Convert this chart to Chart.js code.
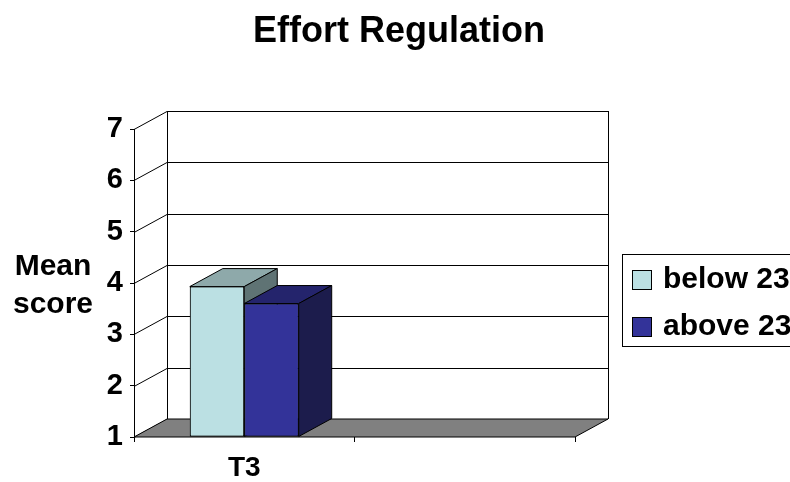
<!DOCTYPE html>
<html>
<head>
<meta charset="utf-8">
<title>Effort Regulation</title>
<script src="https://cdn.jsdelivr.net/npm/chart.js@4.4.1/dist/chart.umd.min.js"></script>
<style>
  html, body { margin: 0; padding: 0; background: #fff; }
  #wrap { width: 790px; height: 482px; position: relative; }
</style>
</head>
<body>
<div id="wrap"><canvas id="chart" width="790" height="482"></canvas></div>
<script>
// Data
const categories = ['T3', ''];
const below23 = [3.93, null];
const above23 = [3.6, null];
const seriesNames = ['below 23', 'above 23'];
const chartTitle = 'Effort Regulation';
const yTitleLines = ['Mean', 'score'];
const yMin = 1;
const yMax = 7;

const FONT = "'Liberation Sans', Arial, Helvetica, sans-serif";
// Depth offset of the back wall (px)
const DEPTH_X = 33;
const DEPTH_Y = -18;

function poly(ctx, pts, fill, stroke) {
  ctx.beginPath();
  ctx.moveTo(pts[0][0], pts[0][1]);
  for (let i = 1; i < pts.length; i++) ctx.lineTo(pts[i][0], pts[i][1]);
  ctx.closePath();
  if (fill) { ctx.fillStyle = fill; ctx.fill(); }
  if (stroke) { ctx.strokeStyle = stroke; ctx.lineWidth = 1; ctx.stroke(); }
}

const box3d = {
  id: 'box3d',
  beforeDatasetsDraw(chart) {
    const { ctx, chartArea: a, scales: { y } } = chart;
    const L = a.left, R = a.right, T = a.top, B = a.bottom;
    ctx.save();
    ctx.lineWidth = 1;
    ctx.strokeStyle = '#000';
    // back wall gridlines and side diagonals
    y.ticks.forEach(t => {
      const yp = Math.round(y.getPixelForValue(t.value)) + 0.5;
      ctx.beginPath();
      ctx.moveTo(L, yp);
      ctx.lineTo(L + DEPTH_X, yp + DEPTH_Y);
      if (t.value !== yMin) ctx.lineTo(R + DEPTH_X, yp + DEPTH_Y);
      ctx.stroke();
    });
    // back wall edges
    ctx.beginPath();
    ctx.moveTo(L + DEPTH_X + 0.5, T + DEPTH_Y);
    ctx.lineTo(L + DEPTH_X + 0.5, B + DEPTH_Y);
    ctx.moveTo(R + DEPTH_X + 0.5, T + DEPTH_Y);
    ctx.lineTo(R + DEPTH_X + 0.5, B + DEPTH_Y);
    ctx.stroke();
    // floor
    poly(ctx, [[L, B], [R, B], [R + DEPTH_X, B + DEPTH_Y], [L + DEPTH_X, B + DEPTH_Y]], '#808080', '#000');
    ctx.restore();
  },
  // redraw the bars front-to-back in series order, each with its top and side faces
  afterDatasetsDraw(chart) {
    const { ctx } = chart;
    ctx.save();
    chart.data.datasets.forEach((ds, di) => {
      const meta = chart.getDatasetMeta(di);
      meta.data.forEach((el, i) => {
        if (ds.data[i] == null) return;
        el.draw(ctx);
        const { x, y, base, width } = el.getProps(['x', 'y', 'base', 'width'], true);
        const l = x - width / 2, r = x + width / 2;
        poly(ctx, [[l, y], [r, y], [r + DEPTH_X, y + DEPTH_Y], [l + DEPTH_X, y + DEPTH_Y]], ds.topColor, '#000');
        poly(ctx, [[r, y], [r + DEPTH_X, y + DEPTH_Y], [r + DEPTH_X, base + DEPTH_Y], [r, base]], ds.sideColor, '#000');
      });
    });
    ctx.restore();
  },
  afterDraw(chart) {
    const { ctx } = chart;
    ctx.save();
    ctx.fillStyle = '#000';
    // title
    ctx.font = 'bold 36px ' + FONT;
    ctx.textAlign = 'center';
    ctx.textBaseline = 'alphabetic';
    ctx.fillText(chartTitle, 399, 42);
    // value axis title
    ctx.font = 'bold 30px ' + FONT;
    ctx.fillText(yTitleLines[0], 53, 275);
    ctx.fillText(yTitleLines[1], 53, 313);
    // legend
    const lx = 622, ly = 254;
    ctx.strokeStyle = '#000';
    ctx.lineWidth = 1;
    ctx.strokeRect(lx + 0.5, ly + 0.5, 220, 92);
    ctx.textAlign = 'left';
    chart.data.datasets.forEach((d, i) => {
      const sy = 270 + i * 47;
      ctx.fillStyle = d.backgroundColor;
      ctx.fillRect(632, sy, 20, 20);
      ctx.strokeRect(632.5, sy + 0.5, 19, 19);
      ctx.fillStyle = '#000';
      ctx.font = 'bold 30px ' + FONT;
      ctx.fillText(d.label, 663, sy + 18);
    });
    ctx.restore();
  }
};

new Chart(document.getElementById('chart'), {
  type: 'bar',
  data: {
    labels: categories,
    datasets: [
      {
        label: seriesNames[0], data: below23, base: yMin,
        backgroundColor: '#BBE0E3', topColor: '#8EA9AA', sideColor: '#5F7374',
        borderColor: '#000', borderWidth: 1, borderSkipped: false,
        categoryPercentage: 0.494, barPercentage: 1.0
      },
      {
        label: seriesNames[1], data: above23, base: yMin,
        backgroundColor: '#333399', topColor: '#24246C', sideColor: '#1C1C4C',
        borderColor: '#000', borderWidth: 1, borderSkipped: false,
        categoryPercentage: 0.494, barPercentage: 1.0
      }
    ]
  },
  options: {
    responsive: false,
    animation: false,
    layout: { padding: { left: 0, right: 215, top: 129, bottom: 0 } },
    plugins: { legend: { display: false }, title: { display: false }, tooltip: { enabled: false } },
    scales: {
      x: {
        afterFit(s) { s.height = 45; },
        grid: { offset: true, drawOnChartArea: false, drawTicks: true, tickLength: 5, color: '#000' },
        border: { display: false },
        ticks: { color: '#000', padding: 9, font: { family: FONT, size: 28, weight: 'bold' } }
      },
      y: {
        min: yMin, max: yMax,
        afterFit(s) { s.width = 134; },
        grid: { drawOnChartArea: false, drawTicks: true, tickLength: 4, color: '#000' },
        border: { display: true, color: '#000' },
        ticks: { stepSize: 1, color: '#000', padding: 7, font: { family: FONT, size: 29, weight: 'bold' } }
      }
    }
  },
  plugins: [box3d]
});
</script>
</body>
</html>
